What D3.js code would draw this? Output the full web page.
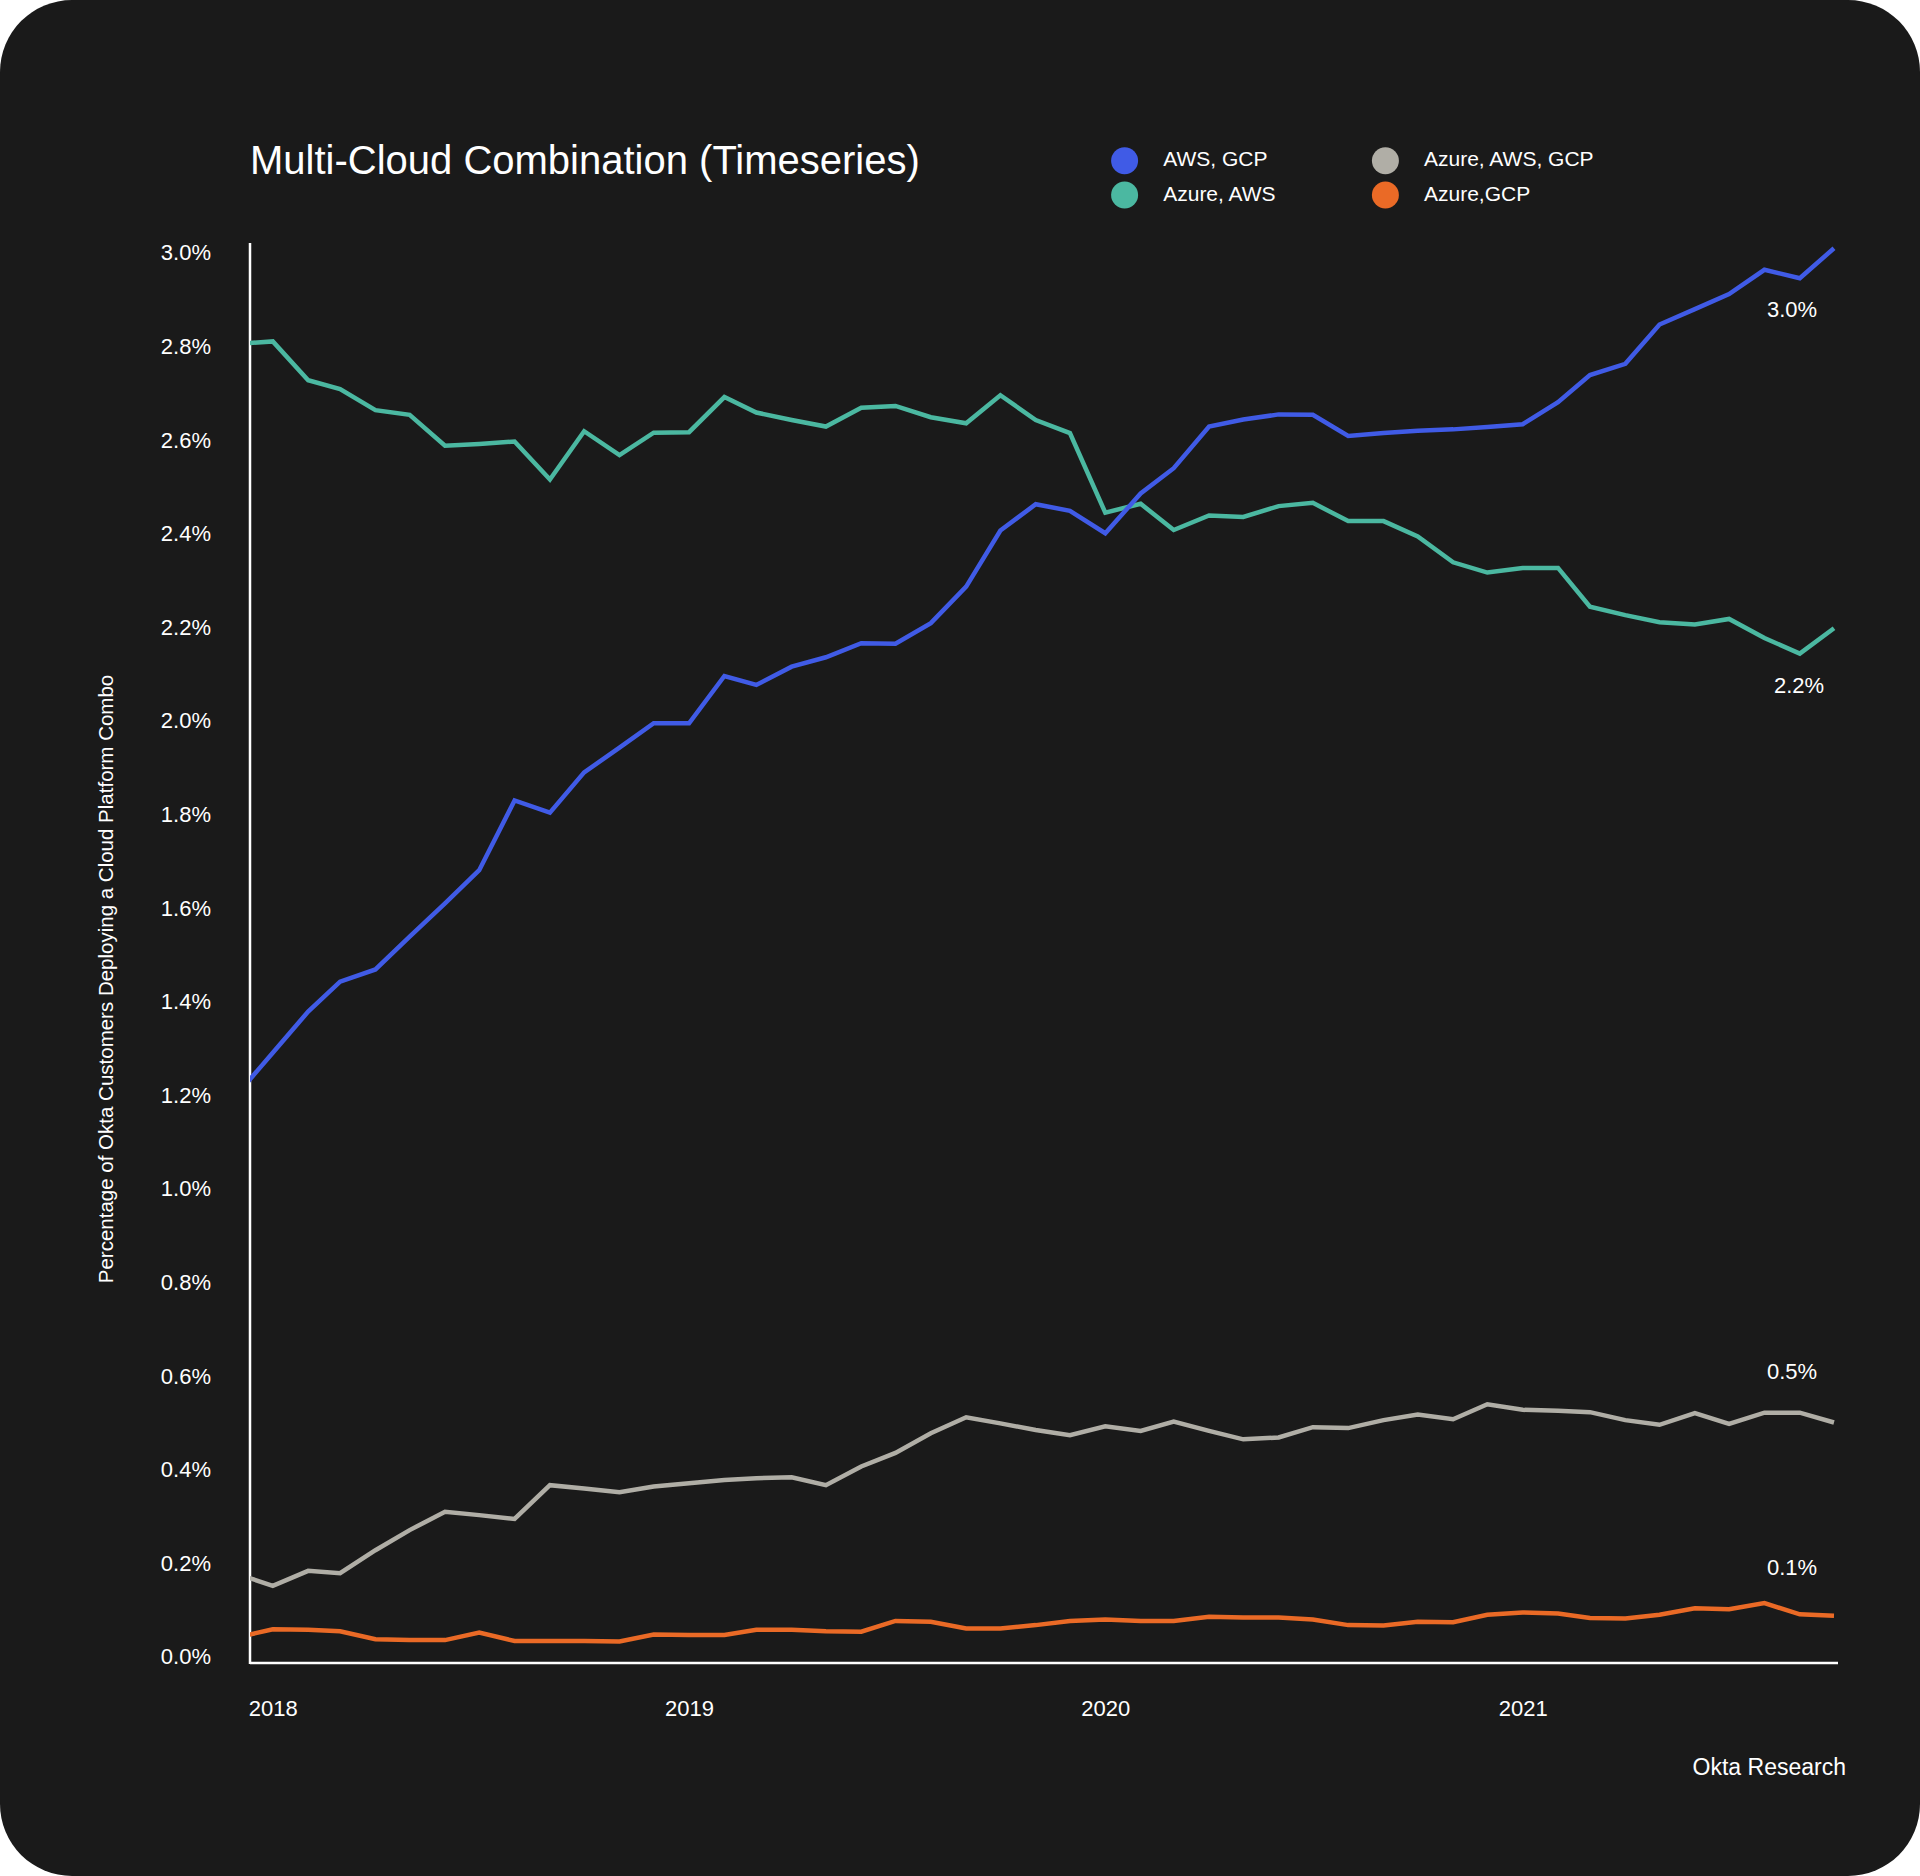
<!DOCTYPE html>
<html>
<head>
<meta charset="utf-8">
<script src="https://cdn.jsdelivr.net/npm/d3@7"></script>
<style>
  body { margin: 0; background: #ffffff; }
  svg { display: block; }
  text { font-family: "Liberation Sans", Arial, sans-serif; fill: #ffffff; }
</style>
</head>
<body>
<div id="chart"></div>
<script>
// monthly values, Dec 2017 .. Oct 2021 (percent of customers)
var months = d3.timeMonths(new Date(2017, 11, 1), new Date(2021, 10, 1));

var awsGcp = [1.201, 1.289, 1.377, 1.441, 1.467, 1.537, 1.608, 1.679, 1.828, 1.802, 1.888, 1.941, 1.993,
  1.993, 2.094, 2.075, 2.114, 2.134, 2.164, 2.163, 2.207, 2.285, 2.405, 2.461, 2.447,
  2.399, 2.484, 2.538, 2.627, 2.642, 2.653, 2.652, 2.607, 2.613, 2.618, 2.621, 2.626,
  2.632, 2.679, 2.737, 2.761, 2.845, 2.878, 2.910, 2.962, 2.944, 3.008];

var azureAws = [2.804, 2.809, 2.726, 2.707, 2.662, 2.652, 2.586, 2.590, 2.595, 2.514, 2.617, 2.566, 2.614,
  2.615, 2.690, 2.657, 2.641, 2.627, 2.667, 2.671, 2.647, 2.634, 2.694, 2.641, 2.613,
  2.443, 2.462, 2.406, 2.437, 2.434, 2.457, 2.464, 2.425, 2.425, 2.392, 2.337, 2.315,
  2.325, 2.325, 2.242, 2.224, 2.209, 2.204, 2.216, 2.175, 2.142, 2.196];

var azureAwsGcp = [0.175, 0.150, 0.182, 0.177, 0.226, 0.269, 0.308, 0.301, 0.293, 0.365, 0.358, 0.350, 0.362,
  0.369, 0.376, 0.380, 0.382, 0.365, 0.405, 0.434, 0.476, 0.510, 0.497, 0.483, 0.472,
  0.491, 0.481, 0.501, 0.481, 0.463, 0.467, 0.489, 0.487, 0.504, 0.516, 0.506, 0.538,
  0.526, 0.524, 0.521, 0.504, 0.494, 0.519, 0.496, 0.520, 0.520, 0.499];

var azureGcp = [0.040, 0.057, 0.056, 0.053, 0.036, 0.034, 0.034, 0.050, 0.032, 0.032, 0.032, 0.031, 0.046,
  0.045, 0.045, 0.056, 0.056, 0.053, 0.052, 0.075, 0.073, 0.059, 0.059, 0.066, 0.075,
  0.078, 0.075, 0.075, 0.084, 0.082, 0.082, 0.078, 0.066, 0.065, 0.073, 0.072, 0.088,
  0.093, 0.091, 0.081, 0.080, 0.088, 0.102, 0.100, 0.113, 0.089, 0.086];

var seriesNames = ["AWS, GCP", "Azure, AWS", "Azure, AWS, GCP", "Azure,GCP"];
var seriesValues = [awsGcp, azureAws, azureAwsGcp, azureGcp];
var endLabels = ["3.0%", "2.2%", "0.5%", "0.1%"];
var yTicks = d3.range(0, 3.01, 0.2);

// styles
var colors = ["#405be6", "#4bb8a1", "#b0aea6", "#ea6a26"];
var endLabelDy = [69, 65, -43, -41];   // 标签相对末点的偏移
var endLabelDx = [-42, -35, -42, -42];
var drawOrder = [1, 2, 3, 0];          // 蓝线画在最上面

var W = 1920, H = 1876;
var plotLeft = 250, plotRight = 1834, plotTop = 252, plotBottom = 1656, axisY = 1663;

var svg = d3.select("#chart").append("svg").attr("width", W).attr("height", H);

svg.append("rect").attr("x", 0).attr("y", 0).attr("width", W).attr("height", H)
  .attr("rx", 72).attr("ry", 72).style("fill", "#1a1a1a");

var x = d3.scaleTime().domain([new Date(2017, 11, 12), new Date(2021, 9, 1)]).range([plotLeft, plotRight]);
var y = d3.scaleLinear().domain([0, 3]).range([plotBottom, plotTop]);

svg.append("clipPath").attr("id", "plotclip").append("rect")
  .attr("x", plotLeft).attr("y", 0).attr("width", W - plotLeft).attr("height", H);

// title
svg.append("text").attr("x", 250).attr("y", 174).style("font-size", "40px")
  .text("Multi-Cloud Combination (Timeseries)");

// legend
var legendPos = [[1124.6, 160.7], [1124.6, 195], [1385.4, 160.7], [1385.4, 195]];
var legend = svg.append("g").selectAll("g").data(seriesNames).enter().append("g")
  .attr("transform", function(d, i) { return "translate(" + legendPos[i][0] + "," + legendPos[i][1] + ")"; });
legend.append("circle").attr("r", 13.5).style("fill", function(d, i) { return colors[i]; });
legend.append("text").attr("x", 38.6).attr("y", 5.5).style("font-size", "21px").text(function(d) { return d; });

// y axis
var yAxis = svg.append("g").attr("transform", "translate(" + plotLeft + ",0)")
  .call(d3.axisLeft(y).tickValues(yTicks).tickSize(0).tickPadding(39)
    .tickFormat(function(d) { return d3.format(".1f")(d) + "%"; }));
yAxis.select(".domain").remove();
yAxis.selectAll("text").style("font-size", "22px").style("fill", "#ffffff")
  .attr("dy", "0.36em").style("font-family", "Liberation Sans, Arial, sans-serif");

// x axis
var xAxis = svg.append("g").attr("transform", "translate(0," + axisY + ")")
  .call(d3.axisBottom(x).ticks(d3.timeYear.every(1)).tickSize(0).tickFormat(d3.timeFormat("%Y")));
xAxis.select(".domain").remove();
xAxis.selectAll("text").attr("y", 53).attr("dy", 0).style("font-size", "22px")
  .style("fill", "#ffffff").style("font-family", "Liberation Sans, Arial, sans-serif");

// axis lines
svg.append("line").attr("x1", plotLeft).attr("x2", plotLeft).attr("y1", 243).attr("y2", axisY + 1)
  .style("stroke", "#ffffff").style("stroke-width", 2.5);
svg.append("line").attr("x1", plotLeft).attr("x2", 1838).attr("y1", axisY).attr("y2", axisY)
  .style("stroke", "#ffffff").style("stroke-width", 2.5);

// y axis title
svg.append("text").attr("transform", "translate(113,979) rotate(-90)")
  .attr("text-anchor", "middle").style("font-size", "20.5px")
  .text("Percentage of Okta Customers Deploying a Cloud Platform Combo");

// lines
var line = d3.line().x(function(d, i) { return x(months[i]); }).y(function(d) { return y(d); });
var lineG = svg.append("g").attr("clip-path", "url(#plotclip)");
drawOrder.forEach(function(si) {
  lineG.append("path").datum(seriesValues[si]).attr("d", line)
    .style("fill", "none").style("stroke", colors[si]).style("stroke-width", 4.5)
    .style("stroke-linejoin", "miter");
});

// end labels
seriesValues.forEach(function(vals, si) {
  var n = vals.length - 1;
  svg.append("text").attr("x", x(months[n]) + endLabelDx[si]).attr("y", y(vals[n]) + endLabelDy[si])
    .attr("text-anchor", "middle").style("font-size", "22px").text(endLabels[si]);
});

// source
svg.append("text").attr("x", 1846).attr("y", 1775).attr("text-anchor", "end")
  .style("font-size", "23px").text("Okta Research");
</script>
</body>
</html>
